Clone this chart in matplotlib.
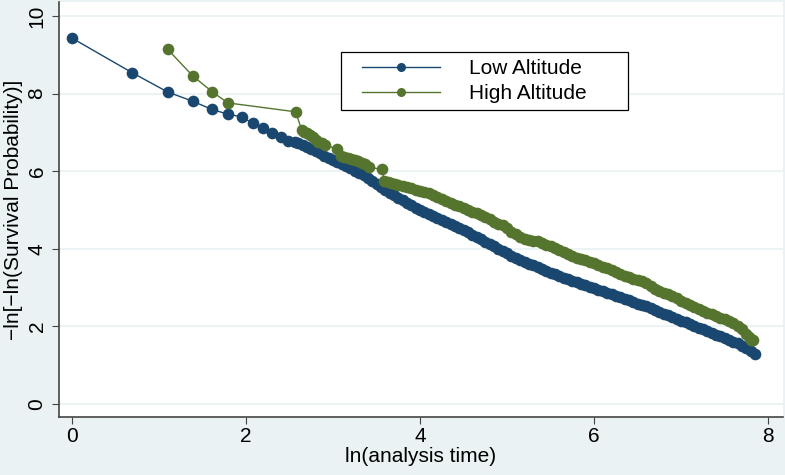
import numpy as np
import matplotlib
matplotlib.use("Agg")
import matplotlib.pyplot as plt
from matplotlib.legend_handler import HandlerLine2D

# ln(analysis time) and -ln[-ln(S)]
low_x = [0.00, 0.69, 1.10, 1.39, 1.61, 1.79, 1.95, 2.08, 2.20, 2.30, 2.40, 2.48, 2.56, 2.60,
         2.65, 2.70, 2.75, 2.80, 2.85, 2.90, 2.95, 3.00, 3.05, 3.10, 3.15, 3.20, 3.25, 3.30,
         3.35, 3.40, 3.45, 3.50, 3.55, 3.60, 3.65, 3.70, 3.75, 3.80, 3.85, 3.90, 3.95, 4.00,
         4.05, 4.10, 4.15, 4.20, 4.25, 4.30, 4.35, 4.40, 4.45, 4.50, 4.55, 4.60, 4.65, 4.70,
         4.75, 4.80, 4.85, 4.90, 4.95, 5.00, 5.05, 5.10, 5.15, 5.20, 5.25, 5.30, 5.35, 5.40,
         5.45, 5.50, 5.55, 5.60, 5.65, 5.70, 5.75, 5.80, 5.85, 5.90, 5.95, 6.00, 6.05, 6.10,
         6.15, 6.20, 6.25, 6.30, 6.35, 6.40, 6.45, 6.50, 6.55, 6.60, 6.65, 6.70, 6.75, 6.80,
         6.85, 6.90, 6.95, 7.00, 7.05, 7.10, 7.15, 7.20, 7.25, 7.30, 7.35, 7.40, 7.45, 7.50,
         7.55, 7.60, 7.65, 7.70, 7.75, 7.80, 7.85]
low_y = [9.43, 8.54, 8.04, 7.80, 7.59, 7.47, 7.40, 7.23, 7.12, 6.99, 6.89, 6.79, 6.74, 6.72,
         6.68, 6.63, 6.57, 6.51, 6.46, 6.40, 6.35, 6.30, 6.24, 6.18, 6.13, 6.07, 6.01, 5.96,
         5.90, 5.82, 5.74, 5.66, 5.59, 5.52, 5.45, 5.38, 5.31, 5.25, 5.18, 5.12, 5.05, 5.00,
         4.95, 4.90, 4.84, 4.79, 4.74, 4.69, 4.64, 4.58, 4.53, 4.48, 4.42, 4.36, 4.30, 4.24,
         4.18, 4.12, 4.06, 4.00, 3.94, 3.88, 3.82, 3.77, 3.72, 3.67, 3.62, 3.57, 3.52, 3.47,
         3.42, 3.38, 3.34, 3.30, 3.26, 3.22, 3.18, 3.14, 3.10, 3.06, 3.02, 2.98, 2.94, 2.90,
         2.86, 2.83, 2.79, 2.75, 2.71, 2.67, 2.63, 2.59, 2.56, 2.52, 2.47, 2.43, 2.38, 2.33,
         2.29, 2.24, 2.20, 2.15, 2.11, 2.06, 2.02, 1.97, 1.93, 1.88, 1.84, 1.79, 1.75, 1.70,
         1.66, 1.61, 1.56, 1.50, 1.44, 1.37, 1.29]

high_x = [1.10, 1.39, 1.61, 1.79, 2.57,
          2.64, 2.67, 2.70, 2.74, 2.77, 2.80, 2.83, 2.87, 2.91, 3.04,
          3.09, 3.12, 3.17, 3.21, 3.25, 3.29, 3.33, 3.37, 3.41, 3.56,
          3.59, 3.63, 3.67, 3.71, 3.75, 3.80, 3.85, 3.89, 3.95, 4.00, 4.05, 4.10, 4.15, 4.20,
          4.25, 4.30, 4.35, 4.40, 4.45, 4.50, 4.55, 4.60, 4.65, 4.70, 4.75, 4.80, 4.85, 4.90,
          4.95, 5.00, 5.05, 5.10, 5.15, 5.20, 5.25, 5.30, 5.35, 5.40, 5.45, 5.50, 5.55, 5.60,
          5.65, 5.70, 5.75, 5.80, 5.85, 5.90, 5.95, 6.00, 6.05, 6.10, 6.15, 6.20, 6.25, 6.30,
          6.35, 6.40, 6.45, 6.50, 6.55, 6.60, 6.65, 6.70, 6.75, 6.80, 6.85, 6.90, 6.95, 7.00,
          7.05, 7.10, 7.15, 7.20, 7.25, 7.30, 7.35, 7.40, 7.45, 7.50, 7.55, 7.60, 7.65, 7.70,
          7.75, 7.78, 7.80, 7.83]
high_y = [9.14, 8.45, 8.05, 7.76, 7.53,
          7.06, 7.02, 6.98, 6.93, 6.87, 6.81, 6.76, 6.72, 6.68, 6.57,
          6.40, 6.36, 6.33, 6.32, 6.28, 6.25, 6.22, 6.18, 6.10, 6.05,
          5.75, 5.72, 5.69, 5.67, 5.65, 5.61, 5.58, 5.56, 5.52, 5.50, 5.47, 5.44, 5.39, 5.33,
          5.28, 5.22, 5.17, 5.13, 5.09, 5.04, 5.00, 4.96, 4.92, 4.88, 4.83, 4.76, 4.69, 4.65,
          4.61, 4.54, 4.44, 4.37, 4.31, 4.26, 4.22, 4.20, 4.19, 4.16, 4.11, 4.07, 4.03, 3.98,
          3.92, 3.86, 3.81, 3.77, 3.74, 3.71, 3.67, 3.63, 3.59, 3.54, 3.50, 3.45, 3.41, 3.36,
          3.31, 3.27, 3.23, 3.20, 3.16, 3.12, 3.05, 2.97, 2.91, 2.87, 2.83, 2.78, 2.72, 2.66,
          2.60, 2.55, 2.50, 2.45, 2.39, 2.35, 2.31, 2.27, 2.22, 2.18, 2.13, 2.08, 2.02, 1.92,
          1.80, 1.72, 1.66, 1.65]

labels = ["Low Altitude", "High Altitude"]
xticks = [0, 2, 4, 6, 8]
yticks = [0, 2, 4, 6, 8, 10]

navy = "#1A476F"
green = "#55752F"
bg = "#EAF2F3"

plt.rcParams["font.family"] = ["Liberation Sans", "DejaVu Sans"]

fig = plt.figure(figsize=(7.85, 4.75), dpi=100, facecolor=bg)
ax = fig.add_axes([59 / 785, 58 / 475, 724 / 785, 415 / 475])
ax.set_facecolor("white")

ax.plot(low_x, low_y, "-o", color=navy, lw=1.0, ms=8.4, mew=0, label=labels[0])
ax.plot(high_x, high_y, "-o", color=green, lw=1.0, ms=8.4, mew=0, label=labels[1])

ax.set_xlim(-0.149, 8.17)
ax.set_ylim(-0.335, 10.36)
ax.set_xticks(xticks)
ax.set_yticks(yticks)
ax.grid(axis="y", color=bg, lw=1.3)
ax.set_axisbelow(True)

for s in ["top", "right"]:
    ax.spines[s].set_visible(False)
for s in ["left", "bottom"]:
    ax.spines[s].set_color("#444444")
    ax.spines[s].set_linewidth(1.2)

ax.tick_params(length=5, width=0.8, color="#444444", labelsize=15)
ax.tick_params(axis="x", pad=2)
ax.tick_params(axis="y", pad=4)
for t in ax.get_yticklabels():
    t.set_rotation(90)
    t.set_va("center")

ax.set_xlabel("ln(analysis time)", fontsize=15, labelpad=1)
ax.set_ylabel("\u2212ln[\u2212ln(Survival Probability)]", fontsize=15, labelpad=3)

hmap = {}
for ln in ax.get_lines():
    hmap[ln] = HandlerLine2D(numpoints=1, xpad=0.67)
leg = ax.legend(loc="upper left", bbox_to_anchor=(0.3895, 0.7156, 0.3964, 0.1639),
                mode="expand", borderaxespad=0, fontsize=15, handlelength=4.42,
                handletextpad=1.39, borderpad=0.34, labelspacing=0.29,
                fancybox=False, framealpha=1, edgecolor="black", handler_map=hmap)
leg.get_frame().set_linewidth(0.9)
for h in leg.legend_handles:
    h.set_markersize(6.5)

fig.savefig("out.png", dpi=100, facecolor=bg)
